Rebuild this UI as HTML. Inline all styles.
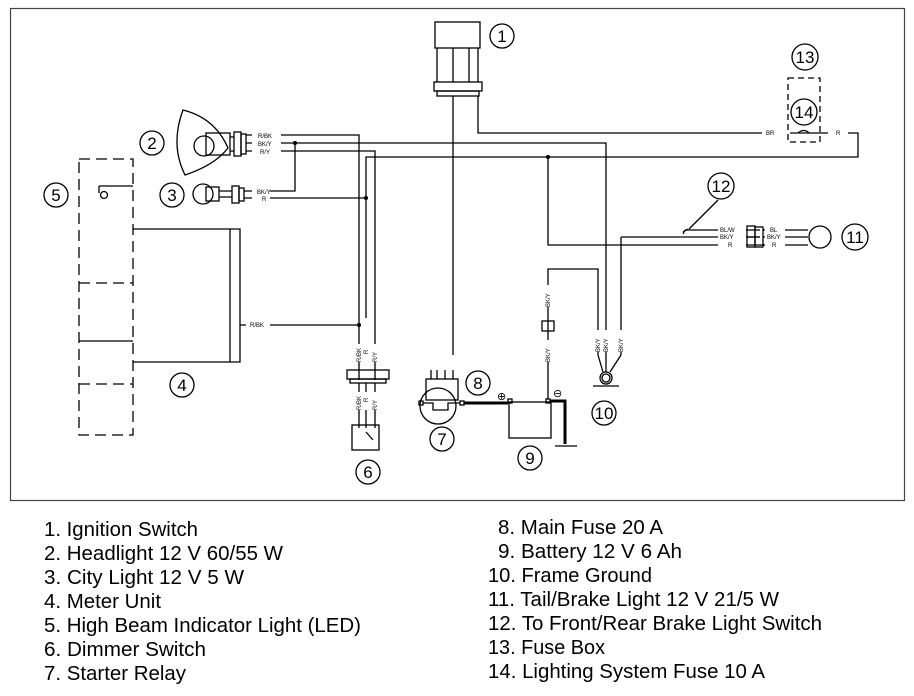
<!DOCTYPE html>
<html><head><meta charset="utf-8"><style>
html,body{margin:0;padding:0;background:#fff;width:914px;height:696px;overflow:hidden}
svg{display:block}
.l{font-family:"Liberation Sans",Arial,sans-serif;font-size:20px;fill:#000}
.n{font-family:"Liberation Sans",Arial,sans-serif;font-size:17px;fill:#000;text-anchor:middle}
.w{font-family:"Liberation Sans",Arial,sans-serif;font-size:6px;fill:#000}
</style></head><body>
<svg width="914" height="696" viewBox="0 0 914 696" xmlns="http://www.w3.org/2000/svg">
<rect x="10.5" y="8.5" width="894" height="492" fill="none" stroke="#444" stroke-width="1.2"/>
<g fill="none" stroke="#000" stroke-width="1.3">
<rect x="435" y="22" width="45" height="26"/>
<path d="M437 48V82M453 48V82M469 48V82M478 48V82"/>
<rect x="434" y="82" width="48" height="9"/><rect x="437" y="91" width="42" height="5"/>
<path d="M453 96V355M478 96V133H770M790 133H828M848 133H858V157H366V318"/>
<path d="M798 133q6 -5 11 0" />
<rect x="788" y="78" width="32" height="64" stroke-dasharray="6,4"/>
<path d="M183 110 Q170 145 185 175 Q215 165 228 148 Q215 118 183 110Z"/>
<circle cx="204" cy="146" r="10"/>
<rect x="206" y="133" width="24" height="22"/><rect x="234" y="132" width="7" height="24"/><rect x="241" y="134" width="5" height="20"/>
<path d="M230 137H234M230 151H234M246 135H258M246 143H258M246 151H258"/>
<path d="M281 135H359V380M281 143H606V355M281 151H375V380"/>
<circle cx="203" cy="194" r="10"/>
<rect x="206" y="187" width="13" height="14"/><rect x="232" y="186" width="7" height="17"/><rect x="239" y="188" width="5" height="13"/>
<path d="M219 191H232M219 197H232M244 191H256M244 198H256"/>
<path d="M270 191H295V143M270 198H366"/>
<path d="M99 186H133M99 186V193"/><circle cx="104" cy="195" r="3.5"/>
<rect x="79" y="159" width="54" height="276" stroke-dasharray="11,6"/>
<path d="M79 283H133M79 384H133" stroke-dasharray="11,6"/>
<path d="M79 341H133"/>
<path d="M133 229H230V362H133M230 229H240V362H230"/>
<path d="M240 325H359"/>
<rect x="347" y="370" width="42" height="9"/><rect x="350" y="379" width="36" height="4"/>
<path d="M359 383V428M366 383V428M375 383V428"/>
<rect x="352" y="425" width="27" height="25"/>
<path d="M366 432L373 440"/>
<rect x="426" y="379" width="32" height="21"/>
<path d="M431 379V370M437 379V370M445 379V370M453 379V370"/>
<circle cx="438" cy="406" r="18"/>
<rect x="419" y="401" width="4" height="4"/><rect x="460" y="401" width="4" height="4"/>
<path d="M423 403H433V410H448V403H460"/>
<rect x="509" y="402" width="42" height="36"/>
<rect x="508" y="399" width="4" height="4"/><rect x="546" y="399" width="4" height="4"/>
<path d="M464 403H508" stroke-width="3"/>
<path d="M550 401H565V444" stroke-width="3"/>
<path d="M548 399V269H598V355M621 237V355"/>
<rect x="542" y="321" width="12" height="10"/>
<path d="M548 157V245H780M621 237H760"/>
<path d="M598 355L603 372M606 355V372M621 355L610 372"/>
<circle cx="606" cy="378" r="6"/><circle cx="606" cy="378" r="4"/>
<path d="M593 386H619M555 446H577"/>
<path d="M685 230H760M760 237H732" />
<path d="M683 232l5 -3M685 230l-2 4"/>
<rect x="747" y="226" width="8" height="21"/><rect x="755" y="227" width="8" height="20"/>
<path d="M763 230H808M763 237H808M763 245H808"/>
<circle cx="820" cy="237" r="11"/>
<path d="M689 229L718 200"/>
<circle cx="502" cy="36" r="12"/><circle cx="152" cy="143" r="12"/><circle cx="172" cy="195" r="12"/>
<circle cx="56" cy="195" r="12"/><circle cx="182" cy="385" r="12"/><circle cx="368" cy="472" r="12"/>
<circle cx="442" cy="439" r="12"/><circle cx="478" cy="383" r="12"/><circle cx="530" cy="458" r="12"/>
<circle cx="604" cy="413" r="12"/><circle cx="855" cy="237" r="13"/><circle cx="721" cy="186" r="13"/>
<circle cx="805" cy="57" r="13"/><circle cx="804" cy="112" r="13"/>
</g>
<g fill="#000"><circle cx="295" cy="143" r="2"/><circle cx="366" cy="198" r="2"/><circle cx="359" cy="325" r="2"/><circle cx="548" cy="157" r="2"/></g>
<g fill="#fff"><rect x="252" y="131" width="28" height="24"/><rect x="252" y="187" width="18" height="14"/><rect x="246" y="321" width="24" height="8"/>
<rect x="762" y="129" width="16" height="8"/><rect x="832" y="129" width="14" height="8"/>
<rect x="718" y="226" width="28" height="22"/><rect x="765" y="226" width="20" height="22"/>
<rect x="355" y="344" width="24" height="18"/><rect x="355" y="392" width="24" height="18"/>
<rect x="544" y="285" width="8" height="22"/><rect x="544" y="340" width="8" height="22"/>
<rect x="594" y="330" width="30" height="22"/></g>
<g class="w">
<text x="258" y="138">R/BK</text><text x="258" y="146">BK/Y</text><text x="260" y="154">R/Y</text>
<text x="257" y="194">BK/Y</text><text x="262" y="201">R</text><text x="250" y="327">R/BK</text>
<text x="766" y="135">BR</text><text x="836" y="135">R</text>
<text x="720" y="232">BL/W</text><text x="720" y="239">BK/Y</text><text x="728" y="247">R</text>
<text x="770" y="232">BL</text><text x="767" y="239">BK/Y</text><text x="772" y="247">R</text>
<g transform="rotate(-90)">
<text x="-362" y="361">R/BK</text><text x="-354" y="368">R</text><text x="-362" y="377">R/Y</text>
<text x="-410" y="361">R/BK</text><text x="-402" y="368">R</text><text x="-410" y="377">R/Y</text>
<text x="-307" y="550">BK/Y</text><text x="-362" y="550">BK/Y</text>
<text x="-352" y="600">BK/Y</text><text x="-352" y="608">BK/Y</text><text x="-352" y="623">BK/Y</text>
</g>
</g>
<text x="497" y="400" style="font:11px 'Liberation Sans',sans-serif">⊕</text>
<text x="553" y="397" style="font:11px 'Liberation Sans',sans-serif">⊖</text>
<g class="n">
<text x="502" y="42">1</text><text x="152" y="149">2</text><text x="172" y="201">3</text><text x="56" y="201">5</text>
<text x="182" y="391">4</text><text x="368" y="478">6</text><text x="442" y="445">7</text><text x="478" y="389">8</text>
<text x="530" y="464">9</text><text x="604" y="419">10</text><text x="855" y="243">11</text><text x="721" y="192">12</text>
<text x="805" y="63">13</text><text x="804" y="118">14</text>
</g>
<g class="l">
<text x="44" y="536" textLength="154" lengthAdjust="spacingAndGlyphs">1. Ignition Switch</text>
<text x="44" y="560" textLength="239" lengthAdjust="spacingAndGlyphs">2. Headlight 12 V 60/55 W</text>
<text x="44" y="584" textLength="200" lengthAdjust="spacingAndGlyphs">3. City Light 12 V 5 W</text>
<text x="44" y="608" textLength="117" lengthAdjust="spacingAndGlyphs">4. Meter Unit</text>
<text x="44" y="632" textLength="317" lengthAdjust="spacingAndGlyphs">5. High Beam Indicator Light (LED)</text>
<text x="44" y="656" textLength="162" lengthAdjust="spacingAndGlyphs">6. Dimmer Switch</text>
<text x="44" y="680" textLength="142" lengthAdjust="spacingAndGlyphs">7. Starter Relay</text>
<text x="498" y="534" textLength="165" lengthAdjust="spacingAndGlyphs">8. Main Fuse 20 A</text>
<text x="498" y="558" textLength="184" lengthAdjust="spacingAndGlyphs">9. Battery 12 V 6 Ah</text>
<text x="488" y="582" textLength="164" lengthAdjust="spacingAndGlyphs">10. Frame Ground</text>
<text x="488" y="606" textLength="291" lengthAdjust="spacingAndGlyphs">11. Tail/Brake Light 12 V 21/5 W</text>
<text x="488" y="630" textLength="334" lengthAdjust="spacingAndGlyphs">12. To Front/Rear Brake Light Switch</text>
<text x="488" y="654" textLength="117" lengthAdjust="spacingAndGlyphs">13. Fuse Box</text>
<text x="488" y="678" textLength="277" lengthAdjust="spacingAndGlyphs">14. Lighting System Fuse 10 A</text>
</g>
</svg>
</body></html>
